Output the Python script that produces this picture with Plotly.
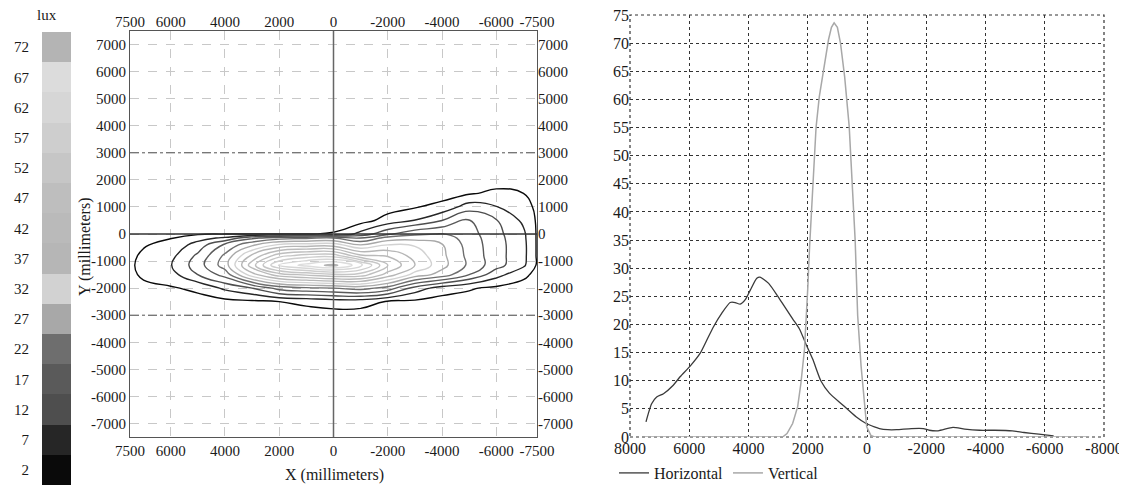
import numpy as np
import plotly.graph_objects as go

# page body has an 8px margin: the figure is sized/positioned to compensate
OFF = 8
W, H = 1127 - OFF, 486 - OFF

# ---------------- data ----------------
lux_levels = [2, 7, 12, 17, 22, 27, 32, 37, 42, 47, 52, 57, 62, 67, 72]
lux_colors = ['#0a0a0a', '#262626', '#4e4e4e', '#5a5a5a', '#6e6e6e', '#a8a8a8',
              '#d2d2d2', '#b6b6b6', '#bababa', '#bebebe', '#c6c6c6', '#cecece',
              '#d6d6d6', '#dcdcdc', '#b4b4b4']

grid_x = [-7500, -7000, -6000, -5000, -4000, -3000, -2000, -1000, 0,
          1000, 2000, 3000, 4000, 5000, 6000, 7000, 7500]
grid_y = [-3000, -2500, -2000, -1500, -1150, -800, -400, -150, 0, 500, 1000, 1500, 2000]

# illuminance (lux) estimated per grid column (x), listed for rows grid_y
lux_columns = [
    [0, 0, 0, 0.8, 1.5, 1.5, 1.5, 1.5, 1.5, 1.4, 1.0, 0.4, 0],
    [0, 0, 0.3, 3.0, 8.0, 8.5, 8.5, 8.2, 8.0, 6.0, 4.0, 2.0, 0],
    [0, 0, 1.0, 9.0, 14.0, 14.0, 14.0, 13.8, 13.5, 12.3, 7.2, 3.0, 0],
    [0, 0, 2.5, 17.0, 21.0, 20.5, 20.0, 19.5, 19.0, 17.5, 9.5, 1.5, 0],
    [0, 0, 4.5, 25.0, 28.7, 28.2, 27.3, 25.0, 22.3, 12.0, 3.5, 0, 0],
    [0, 1.0, 10.0, 30.0, 37.0, 35.0, 31.5, 25.0, 21.0, 7.2, 1.6, 0, 0],
    [0, 1.5, 20.0, 40.0, 47.0, 41.5, 32.0, 24.0, 16.0, 3.9, 0, 0, 0],
    [0, 4.0, 24.0, 50.0, 64.0, 43.0, 27.0, 17.0, 8.7, 0, 0, 0, 0],
    [0, 4.3, 22.0, 51.0, 73.5, 54.5, 34.5, 22.0, 2.3, 0, 0, 0, 0],
    [0, 3.0, 21.0, 48.0, 69.0, 54.0, 34.0, 21.0, 1.9, 0, 0, 0, 0],
    [0, 2.0, 19.0, 45.0, 62.5, 50.0, 33.0, 20.0, 1.9, 0, 0, 0, 0],
    [0, 1.0, 12.0, 35.0, 44.8, 38.0, 26.0, 16.0, 1.9, 0, 0, 0, 0],
    [0, 0.5, 8.0, 19.0, 24.5, 23.0, 18.0, 8.0, 1.9, 0, 0, 0, 0],
    [0, 0.3, 3.0, 12.0, 14.6, 13.0, 9.0, 5.0, 1.5, 0, 0, 0, 0],
    [0, 0, 1.5, 5.0, 6.7, 5.5, 3.5, 1.8, 0.5, 0, 0, 0, 0],
    [0, 0, 0.8, 2.8, 3.3, 2.8, 1.6, 0.8, 0.2, 0, 0, 0, 0],
    [0, 0, 0.3, 1.0, 1.3, 1.0, 0.5, 0.3, 0, 0, 0, 0, 0],
]

map_x_ticks = [7500, 6000, 4000, 2000, 0, -2000, -4000, -6000, -7500]
map_y_ticks = [-7000, -6000, -5000, -4000, -3000, -2000, -1000, 0,
               1000, 2000, 3000, 4000, 5000, 6000, 7000]

horiz_x = [7460, 7380, 7270, 7100, 6870, 6540, 6310, 5970, 5630, 5410, 5180, 4900,
           4620, 4450, 4280, 4110, 3940, 3720, 3610, 3320, 2960, 2510, 2280, 2060,
           1830, 1550, 1270, 820, 370, 30, -250, -420, -700, -1000, -1500, -1900,
           -2100, -2400, -2900, -3300, -3800, -4300, -4900, -5300, -5800, -6300]
horiz_y = [2.7, 4.2, 5.9, 7.1, 7.7, 9.2, 10.7, 12.6, 14.9, 17.2, 19.6, 22.0,
           23.9, 23.9, 23.6, 24.4, 26.1, 28.2, 28.4, 27.3, 24.6, 21.0, 19.2, 16.5,
           13.8, 9.9, 7.8, 5.7, 3.6, 2.4, 1.8, 1.5, 1.3, 1.3, 1.5, 1.5,
           1.2, 1.1, 1.7, 1.4, 1.2, 1.2, 1.1, 0.8, 0.5, 0.2]

vert_x = [7500, 2850, 2700, 2510, 2340, 2230, 2110, 2060, 2000, 1940, 1880, 1800,
          1720, 1610, 1420, 1300, 1200, 1110, 1000, 895, 754, 601, 400, 315, 200,
          90, 10, -130, -250, -7500]
vert_y = [0, 0, 0.6, 2.4, 5.4, 9.6, 15.6, 19.8, 26.4, 33.6, 40, 48,
          55, 60.5, 67, 70.6, 72.8, 73.6, 72.8, 70, 64, 55.2, 35, 21.6, 12.6,
          6.6, 1.8, 0.3, 0, 0]

profile_x_ticks = [8000, 6000, 4000, 2000, 0, -2000, -4000, -6000, -8000]
profile_y_ticks = list(range(0, 80, 5))

# ---------------- helpers (screen pixel -> paper fraction) ----------------
def px_x(p):
    return (p - OFF) / W

def px_y(p):
    return 1 - (p - OFF) / H

n = len(lux_colors)
step_scale = []
for i, c in enumerate(lux_colors):
    step_scale.append([i / n, c])
    step_scale.append([(i + 1) / n, c])

z_grid = np.array(lux_columns).T.tolist()

FONT = "Liberation Serif"
TXT = '#1a1a1a'

fig = go.Figure()

# contour map
fig.add_trace(go.Contour(
    x=grid_x, y=grid_y, z=z_grid,
    xaxis='x', yaxis='y',
    colorscale=step_scale, zmin=-0.5, zmax=74.5, zauto=False,
    contours=dict(start=2, end=72, size=5, coloring='lines'),
    line=dict(width=1.4, smoothing=1.3),
    showscale=False, showlegend=False, hoverinfo='skip'))

# dummy on overlay axes (top / right labels)
fig.add_trace(go.Scatter(x=[0], y=[0], xaxis='x4', yaxis='y4', mode='markers',
                         marker=dict(opacity=0), showlegend=False, hoverinfo='skip'))

# colour bar as heatmap
fig.add_trace(go.Heatmap(
    x=[0], y=lux_levels, z=[[v] for v in lux_levels],
    xaxis='x3', yaxis='y3', colorscale=step_scale, zmin=-0.5, zmax=74.5,
    showscale=False, hoverinfo='skip'))

# profiles
fig.add_trace(go.Scatter(x=horiz_x, y=horiz_y, xaxis='x2', yaxis='y2', mode='lines',
                         name='Horizontal', line=dict(color='#3a3a3a', width=1.3, shape='spline', smoothing=0.6)))
fig.add_trace(go.Scatter(x=vert_x, y=vert_y, xaxis='x2', yaxis='y2', mode='lines',
                         name='Vertical', line=dict(color='#a8a8a8', width=1.5)))

map_dom_x = [px_x(130), px_x(537)]
map_dom_y = [px_y(437), px_y(31)]
prof_dom_x = [px_x(630), px_x(1104)]
prof_dom_y = [px_y(437), px_y(15)]

tickfont_map = dict(family=FONT, size=15, color=TXT)
tickfont_prof = dict(family=FONT, size=16, color=TXT)

common = dict(automargin=False, ticklabeloverflow='allow', ticks='', zeroline=False)

fig.update_layout(
    width=W, height=H, margin=dict(l=0, r=0, t=0, b=0, autoexpand=False),
    paper_bgcolor='white', plot_bgcolor='white',
    font=dict(family=FONT, size=15, color=TXT),
    xaxis=dict(domain=map_dom_x, anchor='y', range=[7500, -7500], tickmode='array',
               tickvals=map_x_ticks, ticktext=[str(v) for v in map_x_ticks],
               showgrid=True, gridcolor='#c8c8c8', griddash='dash', gridwidth=1,
               showline=True, linecolor='#555', linewidth=1, mirror=True,
               tickfont=tickfont_map, **common),
    yaxis=dict(domain=map_dom_y, anchor='x', range=[-7500, 7500], tickmode='array',
               tickvals=map_y_ticks, ticktext=[str(v) for v in map_y_ticks],
               showgrid=True, gridcolor='#c8c8c8', griddash='dash', gridwidth=1,
               showline=True, linecolor='#555', linewidth=1, mirror=True,
               tickfont=tickfont_map, **common),
    xaxis4=dict(overlaying='x', anchor='y4', side='top', range=[7500, -7500], tickmode='array',
                tickvals=map_x_ticks, ticktext=[str(v) for v in map_x_ticks],
                showgrid=False, tickfont=tickfont_map, **common),
    yaxis4=dict(overlaying='y', anchor='x4', side='right', range=[-7500, 7500], tickmode='array',
                tickvals=map_y_ticks, ticktext=[str(v) for v in map_y_ticks],
                showgrid=False, tickfont=tickfont_map, **common),
    xaxis2=dict(domain=prof_dom_x, anchor='y2', range=[8000, -8000], tickmode='array',
                tickvals=profile_x_ticks, ticktext=[str(v) for v in profile_x_ticks],
                showgrid=True, gridcolor='#333', griddash='dot', gridwidth=1.2,
                showline=False, tickfont=tickfont_prof, **common),
    yaxis2=dict(domain=prof_dom_y, anchor='x2', range=[0, 75], tickmode='array',
                tickvals=profile_y_ticks, ticktext=[str(v) for v in profile_y_ticks],
                showgrid=True, gridcolor='#333', griddash='dot', gridwidth=1.2,
                showline=False, tickfont=tickfont_prof, **common),
    xaxis3=dict(domain=[px_x(42), px_x(71)], anchor='y3', visible=False, range=[-0.5, 0.5],
                automargin=False),
    yaxis3=dict(domain=[px_y(485), px_y(32)], anchor='x3', range=[-0.5, 74.5], tickmode='array',
                tickvals=lux_levels, ticktext=[str(v) for v in lux_levels],
                showgrid=False, zeroline=False, showline=False,
                ticks='outside', ticklen=9, tickcolor='rgba(0,0,0,0)',
                tickfont=tickfont_map, automargin=False, ticklabeloverflow='allow'),
    legend=dict(orientation='h', x=px_x(614), y=px_y(456), xanchor='left', yanchor='top',
                font=dict(family=FONT, size=16, color=TXT), itemwidth=30,
                bgcolor='rgba(0,0,0,0)', tracegroupgap=0),
    showlegend=True,
)

# reference lines on the map, dotted frame on the profile chart
shapes = []
for yv in (3000, -3000):
    shapes.append(dict(type='line', xref='x', yref='y', x0=7500, x1=-7500, y0=yv, y1=yv,
                       line=dict(color='#555', width=1, dash='dashdot')))
shapes.append(dict(type='line', xref='x', yref='y', x0=7500, x1=-7500, y0=0, y1=0,
                   line=dict(color='#333', width=1.3)))
shapes.append(dict(type='line', xref='x', yref='y', x0=0, x1=0, y0=-7500, y1=7500,
                   line=dict(color='#666', width=1.5)))
shapes.append(dict(type='rect', xref='x2 domain', yref='y2 domain', x0=0, x1=1, y0=0, y1=1,
                   line=dict(color='#333', width=1.2, dash='dot'), layer='below'))
fig.update_layout(shapes=shapes)

fig.add_annotation(text='X (millimeters)', xref='paper', yref='paper',
                   x=px_x(334), y=px_y(475), xanchor='center', yanchor='middle', showarrow=False,
                   font=dict(family=FONT, size=16, color=TXT))
fig.add_annotation(text='Y (millimeters)', xref='paper', yref='paper',
                   x=px_x(85), y=px_y(247), xanchor='center', yanchor='middle', showarrow=False,
                   textangle=-90, font=dict(family=FONT, size=16, color=TXT))
fig.add_annotation(text='lux', xref='paper', yref='paper',
                   x=px_x(47), y=px_y(15), xanchor='center', yanchor='middle', showarrow=False,
                   font=dict(family=FONT, size=15, color=TXT))

fig.write_html("out.html")
